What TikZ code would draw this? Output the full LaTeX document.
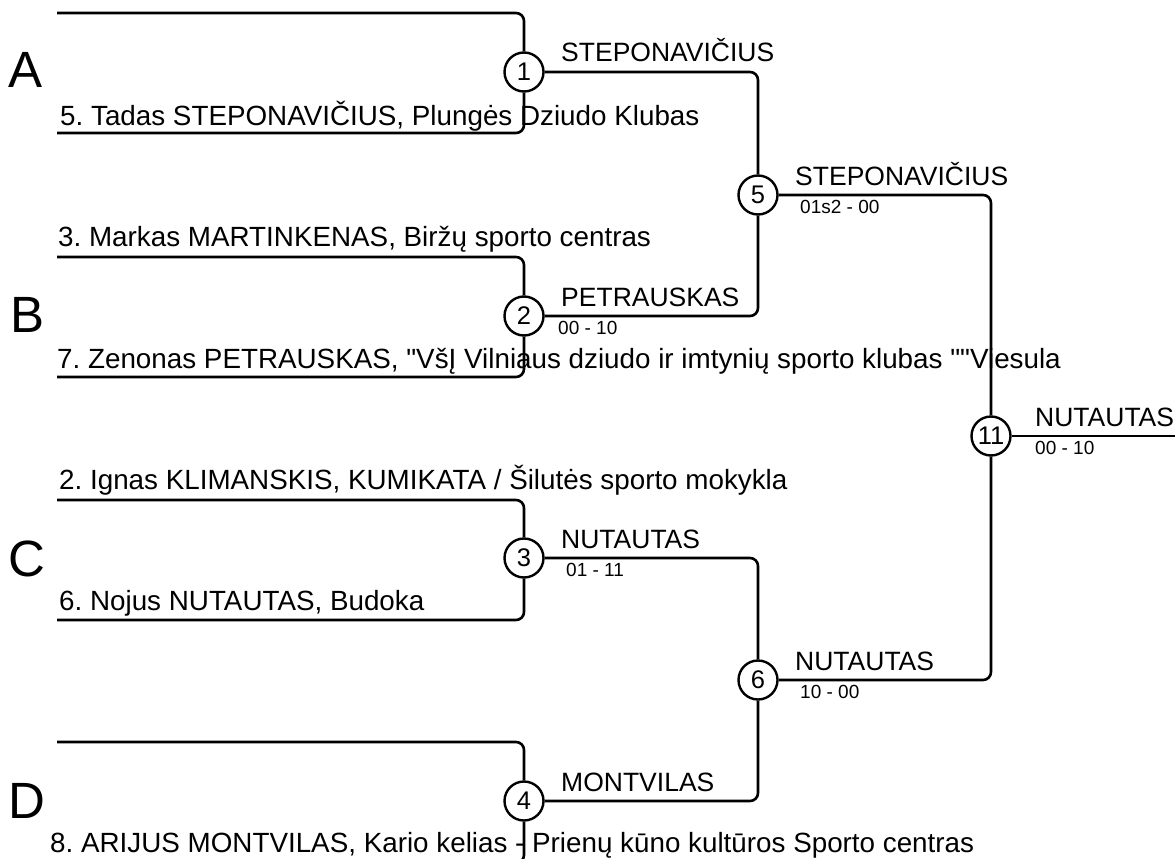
\documentclass[tikz,border=0pt]{standalone}
\usepackage{fontspec}
\setmainfont{Liberation Sans}[Ligatures=TeXOff]
\begin{document}
\frenchspacing
\begin{tikzpicture}[x=1pt,y=-1pt,
  line/.style={line width=2.6pt, rounded corners=8pt},
  match/.style={circle, draw, line width=2.4pt, fill=white, minimum size=39pt, inner sep=0pt, font=\fontsize{25.5}{25}\selectfont},
  nm/.style={anchor=base west, inner sep=0pt, font=\fontsize{27.8}{30}\selectfont\frenchspacing},
  win/.style={anchor=base west, inner sep=0pt, font=\fontsize{26.5}{30}\selectfont},
  score/.style={anchor=north west, inner sep=0pt, font=\fontsize{19}{20}\selectfont},
  pool/.style={anchor=base west, inner sep=0pt, font=\fontsize{51}{51}\selectfont}]
\useasboundingbox (0,0) rectangle (1175,859);
% coordinates
\coordinate (aT) at (57,13);   \coordinate (aB) at (57,133);
\coordinate (bT) at (57,257);  \coordinate (bB) at (57,377);
\coordinate (cT) at (57,500);  \coordinate (cB) at (57,620);
\coordinate (dT) at (57,742);  \coordinate (dB) at (57,863);
\coordinate (fin) at (1180,436);
% pools
\node[pool] (pA) at (8,88) {A};
\node[pool] (pB) at (10,332) {B};
\node[pool] (pC) at (8,576) {C};
\node[pool] (pD) at (8,818) {D};
% names
\node[nm] (n5) at (60,125) {5. Tadas STEPONAVIČIUS, Plungės Dziudo Klubas};
\node[nm] (n3) at (58,246) {3. Markas MARTINKENAS, Biržų sporto centras};
\node[nm] (n7) at (57,368) {7. Zenonas PETRAUSKAS, "VšĮ Vilniaus dziudo ir imtynių sporto klubas ""Viesula};
\node[nm] (n2) at (59,489) {2. Ignas KLIMANSKIS, KUMIKATA / Šilutės sporto mokykla};
\node[nm] (n6) at (59,610) {6. Nojus NUTAUTAS, Budoka};
\node[nm] (n8) at (50,852) {8. ARIJUS MONTVILAS, Kario kelias - Prienų kūno kultūros Sporto centras};
% matches
\node[match] (m1) at (524,72) {1};
\node[match] (m2) at (524,316) {2};
\node[match] (m3) at (524,558) {3};
\node[match] (m4) at (524,801) {4};
\node[match] (m5) at (758,195) {5};
\node[match] (m6) at (758,680) {6};
\node[match] (m11) at (991,436) {11};
% bracket lines
\draw[line] (aT) -| (m1.north);
\draw[line] (aB) -| (m1.south);
\draw[line] (bT) -| (m2.north);
\draw[line] (bB) -| (m2.south);
\draw[line] (cT) -| (m3.north);
\draw[line] (cB) -| (m3.south);
\draw[line] (dT) -| (m4.north);
\draw[line] (dB) -| (m4.south);
\draw[line] (m1.east) -| (m5.north);
\draw[line] (m2.east) -| (m5.south);
\draw[line] (m3.east) -| (m6.north);
\draw[line] (m4.east) -| (m6.south);
\draw[line] (m5.east) -| (m11.north);
\draw[line] (m6.east) -| (m11.south);
\draw[line] (m11.east) -- (fin);
% winner labels
\node[win] (w1) at (561,62) {STEPONAVIČIUS};
\node[win] (w2) at (561,306) {PETRAUSKAS};
\node[score] (s2) at (558,321) {00 - 10};
\node[win] (w3) at (561,548) {NUTAUTAS};
\node[score] (s3) at (566,563) {01 - 11};
\node[win] (w4) at (561,791) {MONTVILAS};
\node[win] (w5) at (795,185) {STEPONAVIČIUS};
\node[score] (s5) at (800,200) {01s2 - 00};
\node[win] (w6) at (795,670) {NUTAUTAS};
\node[score] (s6) at (800,685) {10 - 00};
\node[win] (w11) at (1035,426) {NUTAUTAS};
\node[score] (s11) at (1035,441) {00 - 10};
\end{tikzpicture}
\end{document}
